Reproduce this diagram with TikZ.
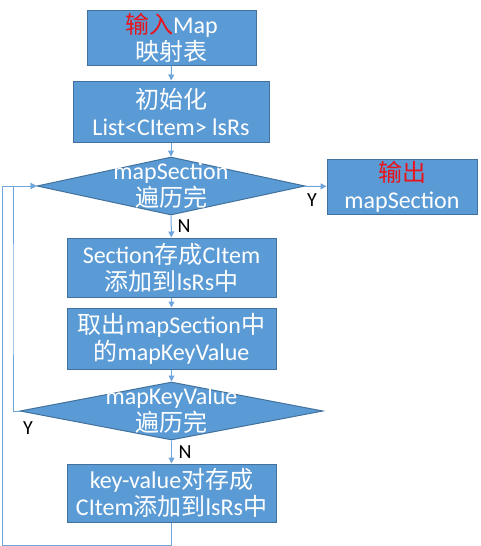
\documentclass[tikz,border=0pt]{standalone}
\usepackage{fontspec}
\setmainfont{Carlito}
\newfontfamily\cjk{Noto Sans CJK SC}
\usetikzlibrary{arrows.meta,shapes.geometric}
\definecolor{boxfill}{HTML}{5B9BD5}
\definecolor{boxline}{HTML}{41719C}
\definecolor{linkblue}{HTML}{6FA5DA}
\definecolor{inred}{HTML}{E8141C}
\begin{document}
\begin{tikzpicture}[x=1pt, y=-1pt, line width=1pt, >={Triangle[length=6pt,width=6pt]},
  flowbox/.style={draw=boxline, fill=boxfill, text=white, align=center, inner sep=0pt,
    font=\fontsize{24}{27}\selectfont},
  decision/.style={diamond, draw=boxline, fill=boxfill, inner sep=0pt},
  decisiontext/.style={text=white, align=center, font=\fontsize{24}{27}\selectfont},
  link/.style={->, draw=linkblue},
  yn/.style={font=\fontsize{20}{24}\selectfont}]
  \useasboundingbox (0,0) rectangle (480,546);
  \node[flowbox, minimum width=169pt, minimum height=55pt] (input) at (171.5,37.5) {{\color{inred}\cjk 输入}Map\\{\cjk 映射表}};
  \node[flowbox, minimum width=196pt, minimum height=61pt] (init) at (171,111.5) {{\cjk 初始化}\\List<CItem> lsRs};
  \node[decision, minimum width=268pt, minimum height=58pt,
    label={[decisiontext]center:mapSection\\{\cjk 遍历完}}] (secdone) at (171,186) {};
  \node[flowbox, minimum width=150pt, minimum height=55pt] (output) at (402,186.5) {{\color{inred}\cjk 输出}\\mapSection};
  \node[flowbox, minimum width=209pt, minimum height=59pt] (secitem) at (171.5,267.5) {Section{\cjk 存成}CItem\\{\cjk 添加到}lsRs{\cjk 中}};
  \node[flowbox, minimum width=209pt, minimum height=61pt] (getkv) at (171.5,338.5) {{\cjk 取出}mapSection{\cjk 中}\\{\cjk 的}mapKeyValue};
  \node[decision, minimum width=303pt, minimum height=58pt,
    label={[decisiontext]center:mapKeyValue\\{\cjk 遍历完}}] (kvdone) at (171.5,411) {};
  \node[flowbox, minimum width=209pt, minimum height=58pt] (kvitem) at (171.5,493) {key-value{\cjk 对存成}\\CItem{\cjk 添加到}lsRs{\cjk 中}};
  \coordinate (innerloop) at (13,300);
  \coordinate (outerloop) at (2,545);
  \draw[link] (input) -- (init);
  \draw[link] (init) -- (secdone);
  \draw[link] (secdone) -- (output);
  \draw[link] (secdone) -- (secitem);
  \draw[link] (secitem) -- (getkv);
  \draw[link] (getkv) -- (kvdone);
  \draw[link] (kvdone) -- (kvitem);
  \draw[link] (kvdone.west) -| (innerloop) |- (secdone.west);
  \draw[link] (kvitem.south) |- (outerloop) |- (secdone.west);
  \node[yn] (secyes) at (312,200) {Y};
  \node[yn] (secno) at (184,226) {N};
  \node[yn] (kvyes) at (28,428) {Y};
  \node[yn] (kvno) at (185,452) {N};
\end{tikzpicture}
\end{document}
